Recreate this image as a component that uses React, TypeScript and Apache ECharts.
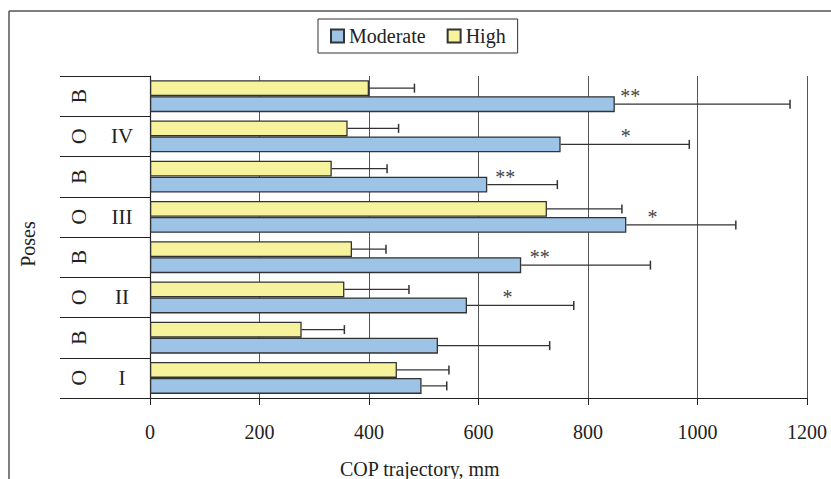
import React, { useEffect, useRef } from "react";
import * as echarts from "echarts";

const categories = ["O-I", "B-I", "O-II", "B-II", "O-III", "B-III", "O-IV", "B-IV"];
const poseLetters = ["O", "B", "O", "B", "O", "B", "O", "B"];
const poseNumerals = ["I", "", "II", "", "III", "", "IV", ""];
const moderate = [496, 526, 579, 678, 870, 616, 750, 849];
const moderateSD = [46, 204, 195, 236, 200, 128, 235, 320];
const high = [451, 277, 355, 369, 725, 332, 361, 400];
const highSD = [95, 78, 118, 62, 137, 101, 93, 83];
const significance = ["", "", "*", "**", "*", "**", "*", "**"];
const significanceAt = [0, 0, 653, 712, 918, 649, 869, 877];
const xMin = 0;
const xMax = 1200;
const xInterval = 200;

const FONT = "Liberation Serif";
const BAR_W = 16;

function makeErrorRender(offset: number, withMarks: boolean) {
  return (params: any, api: any) => {
    const i = params.dataIndex;
    const v = api.value(0);
    const cat = api.value(1);
    const sd = api.value(2);
    const p0 = api.coord([v, cat]);
    const p1 = api.coord([v + sd, cat]);
    const y = p0[1] + offset;
    const children: any[] = [
      {
        type: "line",
        shape: { x1: p0[0], y1: y, x2: p1[0], y2: y },
        style: { stroke: "#333", lineWidth: 1.2 },
      },
      {
        type: "line",
        shape: { x1: p1[0], y1: y - 4.5, x2: p1[0], y2: y + 4.5 },
        style: { stroke: "#333", lineWidth: 1.5 },
      },
    ];
    if (withMarks && significance[i]) {
      const pm = api.coord([significanceAt[i], cat]);
      children.push({
        type: "text",
        x: pm[0],
        y: y - 8,
        style: {
          text: significance[i],
          fill: "#444",
          font: `20px "${FONT}"`,
          align: "center",
          verticalAlign: "middle",
        },
      });
    }
    return { type: "group", children };
  };
}

export default function App() {
  const ref = useRef<HTMLDivElement>(null);
  useEffect(() => {
    if (!ref.current) return;
    const chart = echarts.init(ref.current, null, { renderer: "svg" });
    const option: any = {
      animation: false,
      backgroundColor: "#fff",
      textStyle: { fontFamily: FONT },
      grid: { left: 150, right: 24, top: 76, bottom: 81, containLabel: false },
      legend: {
        data: ["Moderate", "High"],
        left: 318,
        top: 19,
        orient: "horizontal",
        padding: [7, 12, 7, 12],
        borderColor: "#333",
        borderWidth: 1,
        itemWidth: 13,
        itemHeight: 13,
        itemGap: 21,
        icon: "rect",
        textStyle: { fontSize: 20, fontFamily: FONT, color: "#222" },
      },
      xAxis: {
        type: "value",
        min: xMin,
        max: xMax,
        interval: xInterval,
        axisLine: { show: true, lineStyle: { color: "#222", width: 1.2 } },
        axisTick: { show: true, length: 7, lineStyle: { color: "#222" } },
        axisLabel: {
          fontSize: 20,
          fontFamily: FONT,
          color: "#222",
          margin: 24,
          formatter: (v: number) => String(v),
        },
        splitLine: { show: true, lineStyle: { color: "#555", width: 1 } },
      },
      yAxis: [
        {
          type: "category",
          data: categories,
          axisLine: { show: true, lineStyle: { color: "#222", width: 1.2 } },
          axisTick: { show: true, length: 90, lineStyle: { color: "#222", width: 1 } },
          axisLabel: {
            rotate: 90,
            margin: 72,
            align: "center",
            verticalAlign: "middle",
            fontSize: 22,
            fontFamily: FONT,
            color: "#222",
            formatter: (_v: string, idx: number) => poseLetters[idx],
          },
        },
        {
          type: "category",
          data: categories,
          position: "left",
          axisLine: { show: false },
          axisTick: { show: false },
          axisLabel: {
            margin: 28,
            align: "center",
            verticalAlign: "middle",
            fontSize: 21,
            fontFamily: FONT,
            color: "#222",
            formatter: (_v: string, idx: number) => poseNumerals[idx],
          },
        },
      ],
      series: [
        {
          name: "High",
          type: "bar",
          data: high,
          barWidth: BAR_W,
          barGap: "0%",
          itemStyle: { color: "#F7F39C", borderColor: "#333", borderWidth: 1.3 },
        },
        {
          name: "Moderate",
          type: "bar",
          data: moderate,
          barWidth: BAR_W,
          barGap: "0%",
          itemStyle: { color: "#9DC3E6", borderColor: "#333", borderWidth: 1.3 },
        },
        {
          type: "custom",
          renderItem: makeErrorRender(BAR_W / 2, true),
          data: moderate.map((v, i) => [v, i, moderateSD[i]]),
          encode: { x: 0, y: 1 },
          z: 5,
        },
        {
          type: "custom",
          renderItem: makeErrorRender(-BAR_W / 2, false),
          data: high.map((v, i) => [v, i, highSD[i]]),
          encode: { x: 0, y: 1 },
          z: 5,
        },
      ],
      graphic: [
        {
          type: "line",
          shape: { x1: 9, y1: 11, x2: 831, y2: 11 },
          style: { stroke: "#555", lineWidth: 1.5 },
        },
        {
          type: "line",
          shape: { x1: 9, y1: 11, x2: 9, y2: 479 },
          style: { stroke: "#555", lineWidth: 1.5 },
        },
        {
          type: "text",
          x: 27.5,
          y: 244,
          rotation: Math.PI / 2,
          style: {
            text: "Poses",
            font: `20px "${FONT}"`,
            fill: "#222",
            align: "center",
            verticalAlign: "middle",
          },
        },
        {
          type: "text",
          x: 340,
          y: 469,
          style: {
            text: "COP trajectory, mm",
            font: `20px "${FONT}"`,
            fill: "#222",
            align: "left",
            verticalAlign: "middle",
          },
        },
      ],
    };
    chart.setOption(option);
    return () => chart.dispose();
  }, []);
  return (
    <div
      ref={ref}
      style={{ position: "absolute", left: 0, top: 0, width: 831, height: 479 }}
    />
  );
}
